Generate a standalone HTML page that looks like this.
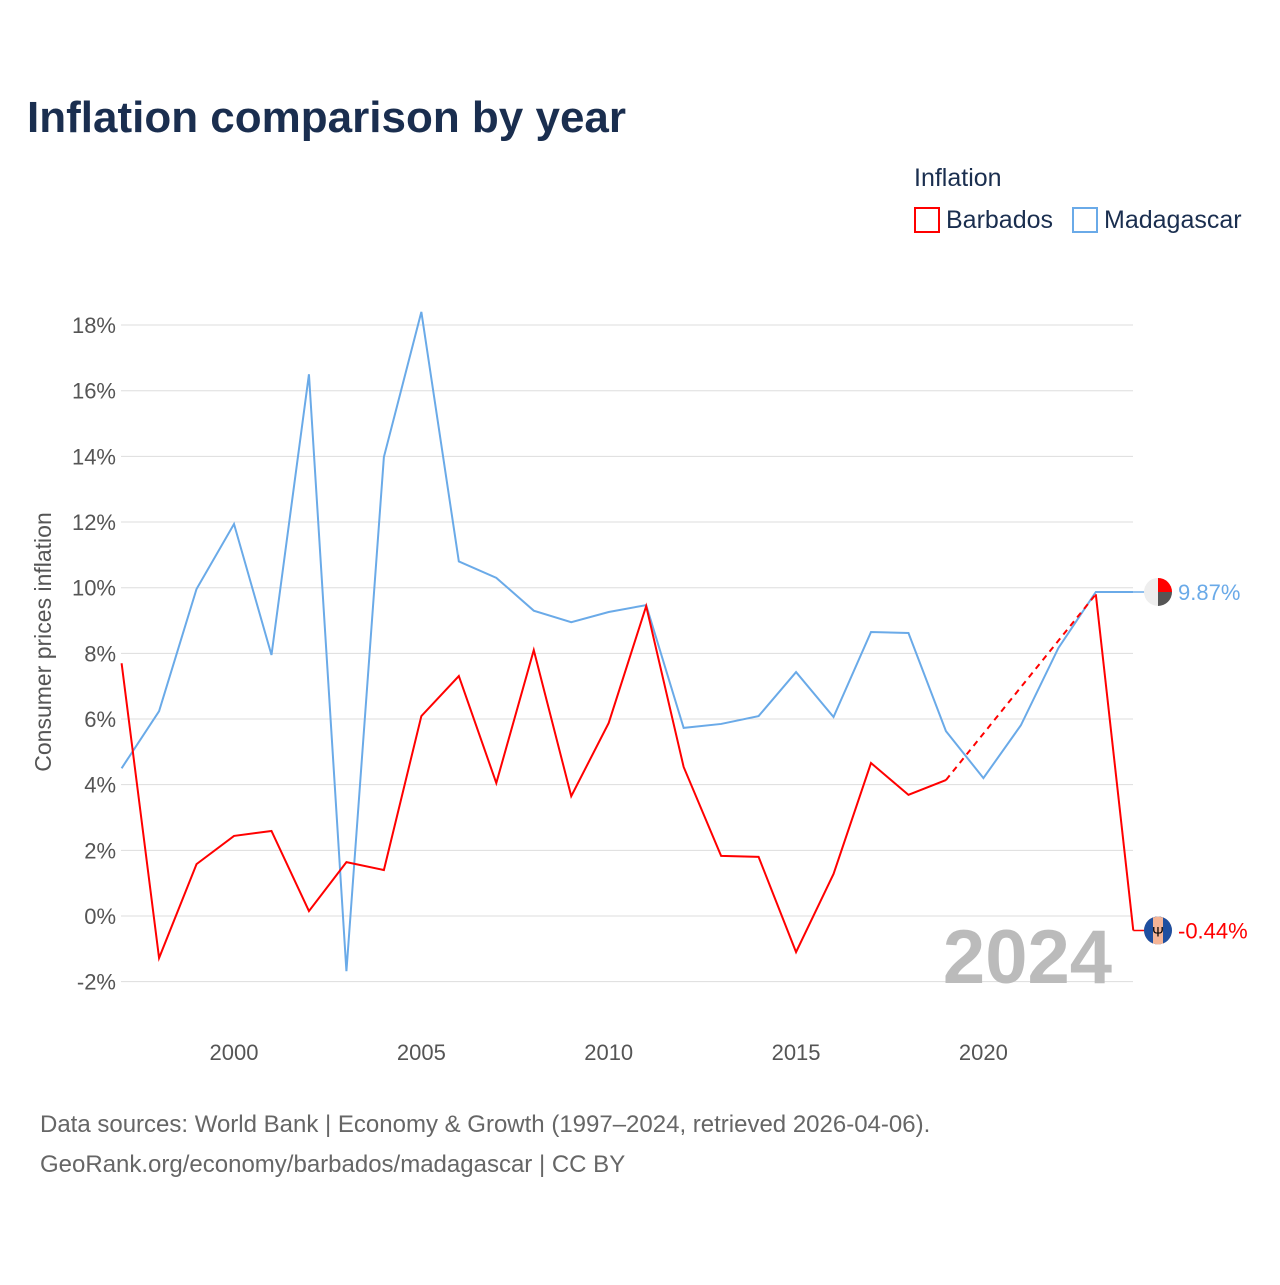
<!DOCTYPE html>
<html><head><meta charset="utf-8">
<style>
body{margin:0;background:#fff;font-family:"Liberation Sans",sans-serif;}
</style></head>
<body>
<svg id="chart" width="1280" height="1280" xmlns="http://www.w3.org/2000/svg">
<text x="27" y="132" font-size="44" font-weight="bold" fill="#1a2e4f">Inflation comparison by year</text>
<text x="914" y="186" font-size="25" fill="#1a2e4f">Inflation</text>
<g>
<rect x="915" y="208" width="24" height="24" fill="none" stroke="#ff0000" stroke-width="2"/>
<text x="946" y="228" font-size="25" fill="#1a2e4f">Barbados</text></g>
<g>
<rect x="1073" y="208" width="24" height="24" fill="none" stroke="#6aaae8" stroke-width="2"/>
<text x="1104" y="228" font-size="25" fill="#1a2e4f">Madagascar</text></g>
<text transform="translate(51,642) rotate(-90)" text-anchor="middle" font-size="23" fill="#555">Consumer prices inflation</text>
<g id="grid"></g><g id="xt"></g>
<text x="1112" y="983" text-anchor="end" font-size="76" font-weight="bold" fill="#bbb">2024</text>
<g id="lines"></g>
<text x="40" y="1132" font-size="24" fill="#666">Data sources: World Bank | Economy &amp; Growth (1997–2024, retrieved 2026-04-06).</text>
<text x="40" y="1172" font-size="24" fill="#666">GeoRank.org/economy/barbados/madagascar | CC BY</text>
</svg>
<script>
const years=[1997,1998,1999,2000,2001,2002,2003,2004,2005,2006,2007,2008,2009,2010,2011,2012,2013,2014,2015,2016,2017,2018,2019,2020,2021,2022,2023,2024];
const barbados=[7.7,-1.28,1.58,2.44,2.59,0.15,1.64,1.4,6.09,7.31,4.05,8.1,3.65,5.88,9.44,4.54,1.83,1.8,-1.1,1.28,4.66,3.69,4.14,null,null,null,9.8,-0.44];
const madagascar=[4.5,6.24,9.96,11.94,7.95,16.5,-1.68,13.98,18.4,10.8,10.3,9.3,8.95,9.26,9.47,5.73,5.85,6.09,7.43,6.06,8.65,8.62,5.63,4.2,5.81,8.16,9.87,9.87];
const yTicks=[-2,0,2,4,6,8,10,12,14,16,18];
const xTicks=[2000,2005,2010,2015,2020];
const NS="http://www.w3.org/2000/svg";
const X=y=>121.6+(y-1997)*37.47;
const Y=v=>916-v*32.83;
function mk(tag,attrs,parent,txt){const e=document.createElementNS(NS,tag);for(const k in attrs)e.setAttribute(k,attrs[k]);if(txt!==undefined)e.textContent=txt;document.getElementById(parent).appendChild(e);return e;}
yTicks.forEach(t=>{
 const l=mk('line',{x1:121,x2:1133,y1:Y(t),y2:Y(t),stroke:'#ddd','stroke-width':1},'grid');
 
 
 const tx=mk('text',{x:116,y:Y(t)+8,'text-anchor':'end','font-size':22,fill:'#555'},'grid',t+'%');
 
 
});
xTicks.forEach(t=>{
 const tx=mk('text',{x:X(t),y:1060,'text-anchor':'middle','font-size':22,fill:'#555'},'xt',t);
 
 
});
function series(vals,color,name){
 let pts=[];let last=null;
 function flush(){
  if(pts.length>1){const p=mk('polyline',{points:pts.join(' '),fill:'none',stroke:color,'stroke-width':2},'lines');
   
   }
  pts=[];
 }
 vals.forEach((v,i)=>{
  if(v===null)return;
  if(last!==null&&i-last>1){
   flush();
   const d=mk('line',{x1:X(years[last]),y1:Y(vals[last]),x2:X(years[i]),y2:Y(v),stroke:color,'stroke-width':2,'stroke-dasharray':'6,5'},'lines');
   
   
  }
  pts.push(X(years[i])+','+Y(v));last=i;
 });
 flush();
}
series(madagascar,'#6aaae8','madagascar');
series(barbados,'#ff0000','barbados');
const mv=madagascar[madagascar.length-1], bv=barbados[barbados.length-1];
const ml=mk('line',{x1:X(2024),x2:1150,y1:Y(mv),y2:Y(mv),stroke:'#6aaae8','stroke-width':1.5},'lines');


const bl=mk('line',{x1:X(2024),x2:1150,y1:Y(bv),y2:Y(bv),stroke:'#ff0000','stroke-width':1.5},'lines');


const f1=mk('g',{},'lines');


const my=Y(mv);
f1.innerHTML=`<circle cx="1158" cy="${my}" r="14" fill="#eee"/><path d="M1158 ${my-14} A14 14 0 0 1 1172 ${my} L1158 ${my} Z" fill="#f00"/><path d="M1158 ${my} L1172 ${my} A14 14 0 0 1 1158 ${my+14}Z" fill="#555"/>`;
const t1=mk('text',{x:1178,y:my+8,'font-size':22,fill:'#6aaae8'},'lines',mv.toFixed(2)+'%');


const f2=mk('g',{},'lines');


const by=Y(bv);
f2.innerHTML=`<circle cx="1158" cy="${by}" r="14" fill="#f4b496"/><path d="M1158 ${by-14} A14 14 0 0 0 1158 ${by+14} L1153 ${by+13} L1153 ${by-13}Z" fill="#1e4fa0"/><path d="M1158 ${by-14} A14 14 0 0 1 1158 ${by+14} L1163 ${by+13} L1163 ${by-13}Z" fill="#1e4fa0"/><text x="1158" y="${by+6}" text-anchor="middle" font-size="14" fill="#000">Ψ</text>`;
const t2=mk('text',{x:1178,y:by+8,'font-size':22,fill:'#ff0000'},'lines',bv.toFixed(2)+'%');


</script>
</body></html>
